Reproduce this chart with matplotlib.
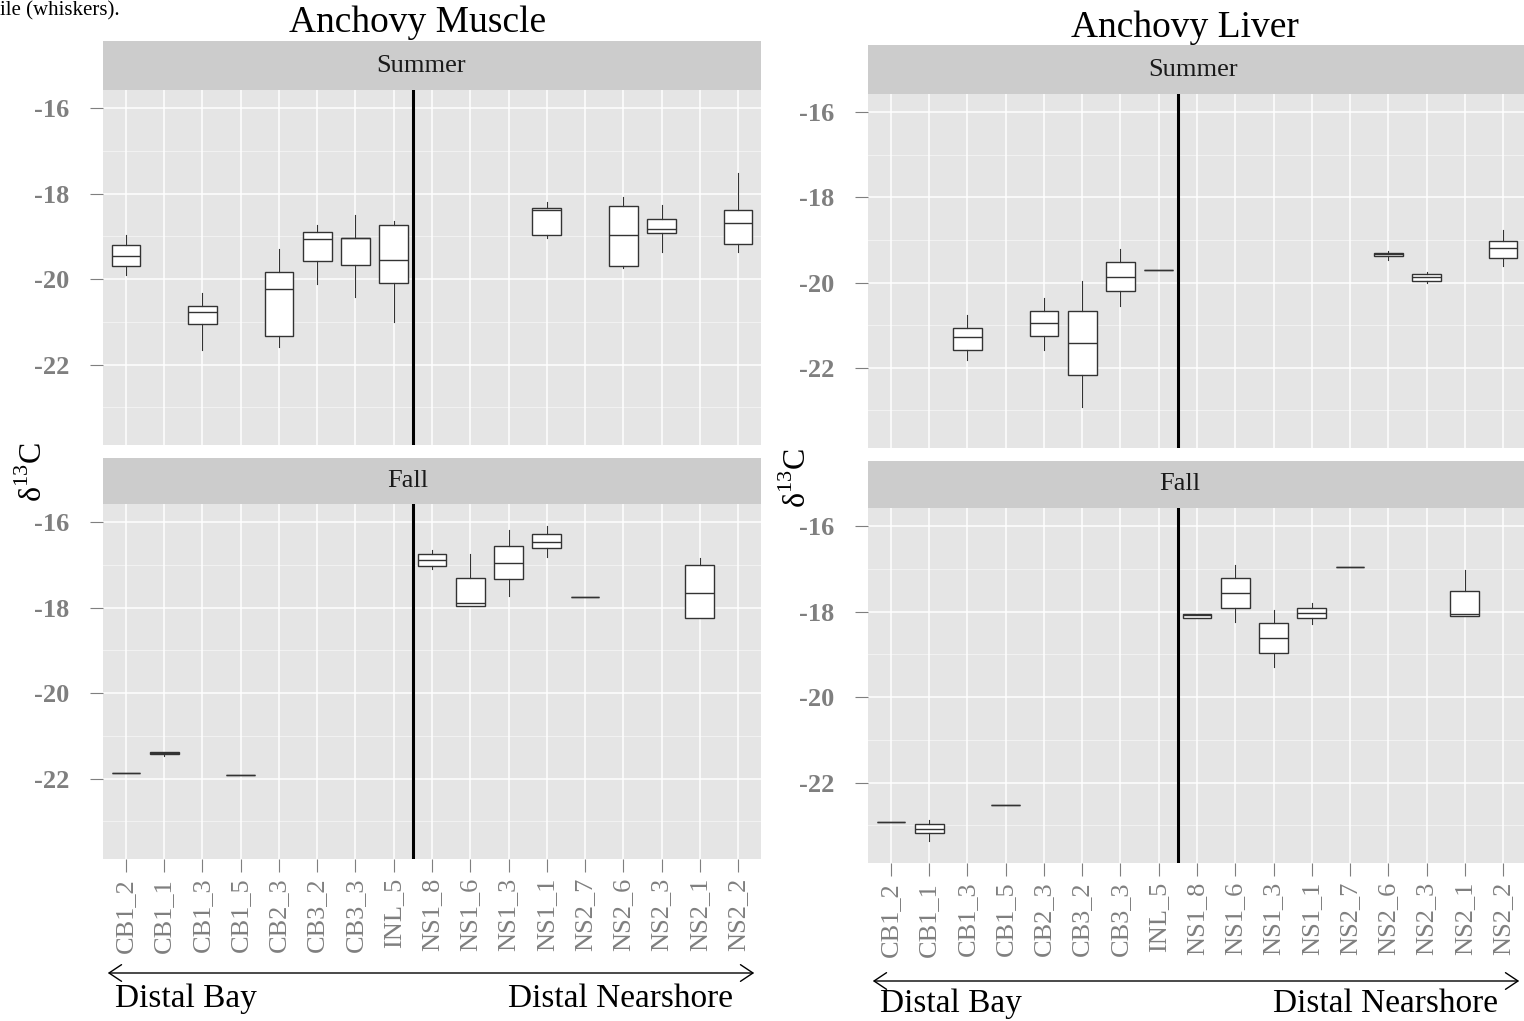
#!/usr/bin/env python3

# Libraries
from matplotlib import pyplot as plt
from matplotlib.patches import FancyArrowPatch

# Sites, ordered from the bay out to the nearshore stations
Sites = ["CB1_2", "CB1_1", "CB1_3", "CB1_5", "CB2_3", "CB3_2", "CB3_3", "INL_5",
         "NS1_8", "NS1_6", "NS1_3", "NS1_1", "NS2_7", "NS2_6", "NS2_3", "NS2_1", "NS2_2"]

# d13C box stats per site: lower whisker, Q1, median, Q3, upper whisker
MuscleSummer = {
    "CB1_2": [-19.90, -19.70, -19.47, -19.21, -18.97],
    "CB1_3": [-21.66, -21.04, -20.76, -20.62, -20.33],
    "CB2_3": [-21.59, -21.34, -20.23, -19.84, -19.30],
    "CB3_2": [-20.11, -19.57, -19.07, -18.91, -18.73],
    "CB3_3": [-20.42, -19.66, -19.03, -19.03, -18.51],
    "INL_5": [-21.00, -20.09, -19.56, -18.73, -18.65],
    "NS1_1": [-19.03, -18.97, -18.38, -18.34, -18.20],
    "NS2_6": [-19.75, -19.70, -18.96, -18.30, -18.07],
    "NS2_3": [-19.37, -18.93, -18.83, -18.59, -18.26],
    "NS2_2": [-19.37, -19.17, -18.70, -18.39, -17.53],
}

MuscleFall = {
    "CB1_2": [-21.87, -21.87, -21.87, -21.87, -21.87],
    "CB1_1": [-21.48, -21.43, -21.40, -21.37, -21.37],
    "CB1_5": [-21.92, -21.92, -21.92, -21.92, -21.92],
    "NS1_8": [-17.10, -17.02, -16.88, -16.75, -16.66],
    "NS1_6": [-17.97, -17.97, -17.90, -17.32, -16.76],
    "NS1_3": [-17.72, -17.33, -16.96, -16.57, -16.18],
    "NS1_1": [-16.81, -16.62, -16.48, -16.27, -16.10],
    "NS2_7": [-17.75, -17.75, -17.75, -17.75, -17.75],
    "NS2_1": [-18.25, -18.25, -17.67, -17.00, -16.84],
}

LiverSummer = {
    "CB1_3": [-21.81, -21.58, -21.28, -21.06, -20.75],
    "CB2_3": [-21.58, -21.25, -20.94, -20.66, -20.37],
    "CB3_2": [-22.92, -22.16, -21.42, -20.66, -19.96],
    "CB3_3": [-20.54, -20.19, -19.86, -19.52, -19.22],
    "INL_5": [-19.70, -19.70, -19.70, -19.70, -19.70],
    "NS2_6": [-19.48, -19.38, -19.34, -19.30, -19.27],
    "NS2_3": [-20.00, -19.96, -19.87, -19.80, -19.76],
    "NS2_2": [-19.61, -19.42, -19.20, -19.02, -18.78],
}

LiverFall = {
    "CB1_2": [-22.91, -22.91, -22.91, -22.91, -22.91],
    "CB1_1": [-23.36, -23.19, -23.09, -22.96, -22.87],
    "CB1_5": [-22.52, -22.52, -22.52, -22.52, -22.52],
    "NS1_8": [-18.15, -18.15, -18.09, -18.05, -18.05],
    "NS1_6": [-18.24, -17.91, -17.57, -17.22, -16.91],
    "NS1_3": [-19.29, -18.96, -18.62, -18.27, -17.97],
    "NS1_1": [-18.29, -18.15, -18.04, -17.91, -17.80],
    "NS2_7": [-16.95, -16.95, -16.95, -16.95, -16.95],
    "NS2_1": [-18.10, -18.10, -18.05, -17.52, -17.03],
}

YTicks = [-16, -18, -20, -22]
YMinor = [-17, -19, -21, -23]
YLimits = (-23.88, -15.58)
BayDivide = 7.5  # between INL_5 and NS1_8

# Figure size in pixels
FigW, FigH = 1524, 1021

# Colours (old ggplot grey theme)
PanelGrey = '#E5E5E5'
StripGrey = '#CCCCCC'
MinorGrid = '#F2F2F2'
AxisGrey = '#7F7F7F'
BoxEdge = '#333333'


def FX(Px):
    return Px / FigW


def FY(Py):
    return 1 - Py / FigH


def PixelRect(Left, Top, Right, Bottom):
    return [FX(Left), FY(Bottom), (Right - Left) / FigW, (Bottom - Top) / FigH]


def DrawFacet(fig, Data, Left, Right, StripTop, PanelTop, PanelBottom, Season, SeasonX, ShowX):
    # Strip with season name
    Strip = fig.add_axes(PixelRect(Left, StripTop, Right, PanelTop))
    Strip.set_facecolor(StripGrey)
    Strip.set_xticks([])
    Strip.set_yticks([])
    for Spine in Strip.spines.values():
        Spine.set_visible(False)
    fig.text(FX(SeasonX), FY((StripTop + PanelTop) / 2), Season, ha='center', va='center',
             fontsize=19, color='#1A1A1A')

    # Panel
    ax = fig.add_axes(PixelRect(Left, PanelTop, Right, PanelBottom))
    ax.set_facecolor(PanelGrey)
    for Spine in ax.spines.values():
        Spine.set_visible(False)
    ax.set_xlim(-0.6, len(Sites) - 0.4)
    ax.set_ylim(*YLimits)

    # Grid lines
    for y in YMinor:
        ax.axhline(y, color=MinorGrid, linewidth=0.7, zorder=0.5)
    for y in YTicks:
        ax.axhline(y, color='white', linewidth=1.1, zorder=0.6)
    for x in range(len(Sites)):
        ax.axvline(x, color='white', linewidth=1.1, zorder=0.6)

    # Boxes
    Stats = []
    Positions = []
    for Site, (Lo, Q1, Med, Q3, Hi) in Data.items():
        Stats.append({'whislo': Lo, 'q1': Q1, 'med': Med, 'q3': Q3, 'whishi': Hi, 'fliers': []})
        Positions.append(Sites.index(Site))
    ax.bxp(Stats, positions=Positions, widths=0.75, patch_artist=True, showfliers=False,
           showcaps=False, manage_ticks=False,
           boxprops=dict(facecolor='white', edgecolor=BoxEdge, linewidth=1.0),
           medianprops=dict(color=BoxEdge, linewidth=1.0),
           whiskerprops=dict(color=BoxEdge, linewidth=0.8))

    # Bay / nearshore divide
    ax.axvline(BayDivide, color='black', linewidth=2.2, zorder=5)

    # Axes text
    ax.set_yticks(YTicks, [str(y) for y in YTicks])
    ax.tick_params(axis='y', length=9.5, width=0.8, color=AxisGrey, pad=15,
                   labelsize=19, labelcolor=AxisGrey)
    for Label in ax.get_yticklabels():
        Label.set_fontweight('bold')
    if ShowX:
        ax.set_xticks(range(len(Sites)), Sites, rotation=90, va='top')
        ax.tick_params(axis='x', length=9.5, width=0.8, color=AxisGrey, pad=4,
                       labelsize=19, labelcolor=AxisGrey)
    else:
        ax.set_xticks([])
    return ax


def DrawPanel(fig, Summer, Fall, Title, Left, Right, TitleX, TitleY, Tops, SeasonX,
              LabelX, LabelY, ArrowY, TextY):
    SummerStrip, SummerTop, SummerBottom, FallStrip, FallTop, FallBottom = Tops
    DrawFacet(fig, Summer, Left, Right, SummerStrip, SummerTop, SummerBottom, 'Summer', SeasonX[0], False)
    DrawFacet(fig, Fall, Left, Right, FallStrip, FallTop, FallBottom, 'Fall', SeasonX[1], True)

    fig.text(FX(TitleX), FY(TitleY), Title, ha='center', va='center', fontsize=27)
    fig.text(FX(LabelX), FY(LabelY), 'δ$^{13}$C', rotation=90,
             ha='center', va='center', fontsize=23)

    # Bay to nearshore arrow
    Arrow = FancyArrowPatch((FX(Left + 2), FY(ArrowY)), (FX(Right - 4), FY(ArrowY)),
                            transform=fig.transFigure, arrowstyle='<->,head_length=0.45,head_width=0.3',
                            mutation_scale=20, linewidth=1.0, color='black')
    fig.add_artist(Arrow)
    fig.text(FX(Left + 12), FY(TextY), 'Distal Bay', ha='left', va='baseline', fontsize=24)
    fig.text(FX(Right - 28), FY(TextY), 'Distal Nearshore', ha='right', va='baseline', fontsize=24)


# Main function
def main():
    plt.rcParams['font.family'] = ['Liberation Serif', 'DejaVu Serif']
    plt.rcParams['mathtext.fontset'] = 'custom'
    plt.rcParams['mathtext.rm'] = 'Liberation Serif'

    fig = plt.figure(figsize=(FigW / 100, FigH / 100), dpi=100)

    # Caption fragment at the top edge
    fig.text(0, FY(15), 'ile (whiskers).', ha='left', va='baseline', fontsize=15)

    DrawPanel(fig, MuscleSummer, MuscleFall, 'Anchovy Muscle', 103, 761, 418, 23,
              (41, 90, 445, 458, 504, 859), (421, 408), 33, 472, 973, 1007)
    DrawPanel(fig, LiverSummer, LiverFall, 'Anchovy Liver', 868, 1526, 1185, 28,
              (45, 94, 448, 461, 508, 863), (1193, 1180), 797, 478, 981, 1012)

    fig.savefig('out.png', dpi=100)


# Execute main function
if __name__ == '__main__':
    main()
